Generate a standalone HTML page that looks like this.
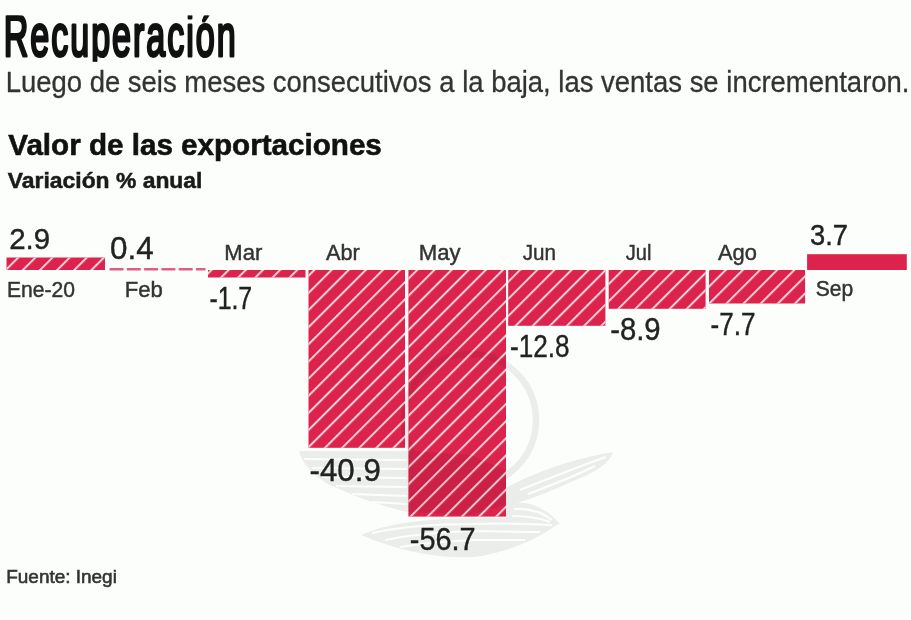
<!DOCTYPE html>
<html><head><meta charset="utf-8"><style>
html,body{margin:0;padding:0;background:#fcfefc;}
body{width:911px;height:620px;overflow:hidden;position:relative;}
svg{position:absolute;left:0;top:0;display:block;filter:blur(0.55px);}
text{font-family:"Liberation Sans",sans-serif;}
</style></head><body>
<svg width="911" height="620" viewBox="0 0 911 620">
<defs>
<pattern id="h" patternUnits="userSpaceOnUse" width="12.12" height="40" patternTransform="rotate(45) translate(0.1 0)">
<rect x="0" y="0" width="2" height="40" fill="#fbd0da"/>
</pattern>
<clipPath id="tc" clipPathUnits="userSpaceOnUse"><rect x="-20" y="-40.5" width="600" height="46.3"/></clipPath>
<mask id="wm" maskUnits="userSpaceOnUse" x="0" y="0" width="911" height="620">
<g fill="#fff">
<circle cx="470" cy="420" r="66" fill="none" stroke="#fff" stroke-width="6.5"/>
<path d="M299 451 L407 451 L407 512 C380 506 348 494 326 483 C311 473 302 463 299 451Z"/>
<path d="M407 451 L470 455 L470 515 L407 512Z"/>
<path d="M470 455 L506 470 L506 505 L470 515Z"/>
<path d="M506 488 C530 474 575 458 613 452 C610 464 592 474 573 481 C556 489 540 496 520 502 L506 505Z"/>
<path d="M506 503 C525 500 545 506 560 524 C545 529 525 529 506 526Z"/>
<path d="M361 535 C385 524 420 519 470 518 C510 517 540 519 559 523 C540 538 510 552 475 557 C440 559 400 552 361 535Z"/>
</g>
<g stroke="#000" stroke-width="2.2" fill="none">
<path d="M304 459 L407 460 M312 468 L407 469 M322 477 L407 478 M336 486 L407 487 M352 494 L407 496 M372 502 L407 504"/>
<path d="M520 490 C550 478 580 466 606 457 M528 494 C552 485 575 476 595 466"/>
<path d="M514 509 C530 508 542 512 552 520 M512 516 C528 516 540 518 550 522"/>
<path d="M372 533 C400 527 430 524 470 524 C505 523 530 524 552 525 M385 540 C410 535 440 532 470 531 C500 531 520 532 540 532 M400 547 C425 543 450 541 475 540 C495 540 510 540 525 540"/>
</g>
</mask>
</defs>
<rect width="911" height="620" fill="#fcfefc"/>

<rect x="6.5" y="257.5" width="98.5" height="12.5" fill="#dc234b"/>
<rect x="6.5" y="257.5" width="98.5" height="12.5" fill="url(#h)"/>
<line x1="109.5" y1="269.3" x2="205.5" y2="269.3" stroke="#de5f85" stroke-width="2.6" stroke-dasharray="14 3.3" stroke-dashoffset="0"/>
<rect x="208" y="270" width="97.5" height="7.5" fill="#dc234b"/>
<rect x="208" y="270" width="97.5" height="7.5" fill="url(#h)"/>
<rect x="308.5" y="270" width="96.5" height="177.8" fill="#dc234b"/>
<rect x="308.5" y="270" width="96.5" height="177.8" fill="url(#h)"/>
<rect x="408.4" y="270" width="97.6" height="246.6" fill="#dc234b"/>
<rect x="408.4" y="270" width="97.6" height="246.6" fill="url(#h)"/>
<rect x="508.2" y="270" width="97.2" height="55.8" fill="#dc234b"/>
<rect x="508.2" y="270" width="97.2" height="55.8" fill="url(#h)"/>
<rect x="608.7" y="270" width="96.9" height="38.8" fill="#dc234b"/>
<rect x="608.7" y="270" width="96.9" height="38.8" fill="url(#h)"/>
<rect x="709" y="270" width="96.1" height="33.5" fill="#dc234b"/>
<rect x="709" y="270" width="96.1" height="33.5" fill="url(#h)"/>
<rect x="807.1" y="254.2" width="99.7" height="15.8" fill="#dc234b"/>
<rect x="0" y="0" width="911" height="620" fill="#000" opacity="0.062" mask="url(#wm)"/>
<text clip-path="url(#tc)" transform="translate(3.79 56.00) scale(0.58 1)" x="0" y="0" font-size="58.7" fill="#111" stroke="#111" stroke-width="2.6" vector-effect="non-scaling-stroke" stroke-linejoin="round" letter-spacing="3.410">Recuperación</text>
<text x="5.63" y="91.50" font-size="29.6" stroke="#333" stroke-width="0.3" fill="#333" textLength="903.86" lengthAdjust="spacingAndGlyphs">Luego de seis meses consecutivos a la baja, las ventas se incrementaron.</text>
<text x="8.28" y="155.00" font-size="29.5" font-weight="bold" stroke="#111" stroke-width="0.6" fill="#111" textLength="373.57" lengthAdjust="spacingAndGlyphs">Valor de las exportaciones</text>
<text x="7.83" y="187.50" font-size="22.3" font-weight="bold" stroke="#1a1a1a" stroke-width="0.5" fill="#1a1a1a" textLength="194.60" lengthAdjust="spacingAndGlyphs">Variación % anual</text>
<text x="9.13" y="248.80" font-size="30.26" stroke="#222" stroke-width="0.4" fill="#222" textLength="41.01" lengthAdjust="spacingAndGlyphs">2.9</text>
<text x="110.14" y="258.50" font-size="30.95" stroke="#222" stroke-width="0.4" fill="#222" textLength="43.62" lengthAdjust="spacingAndGlyphs">0.4</text>
<text x="7.06" y="296.80" font-size="21.5" stroke="#333" stroke-width="0.45" fill="#333" textLength="67.98" lengthAdjust="spacingAndGlyphs">Ene-20</text>
<text x="124.67" y="296.60" font-size="21.5" stroke="#333" stroke-width="0.45" fill="#333" textLength="38.13" lengthAdjust="spacingAndGlyphs">Feb</text>
<text x="224.38" y="259.60" font-size="22" stroke="#333" stroke-width="0.45" fill="#333" textLength="37.94" lengthAdjust="spacingAndGlyphs">Mar</text>
<text x="209.38" y="308.60" font-size="30.55" stroke="#222" stroke-width="0.4" fill="#222" textLength="42.78" lengthAdjust="spacingAndGlyphs">-1.7</text>
<text x="325.95" y="259.60" font-size="22" stroke="#333" stroke-width="0.45" fill="#333" textLength="33.81" lengthAdjust="spacingAndGlyphs">Abr</text>
<text x="309.59" y="480.80" font-size="30.75" stroke="#222" stroke-width="0.4" fill="#222" textLength="71.17" lengthAdjust="spacingAndGlyphs">-40.9</text>
<text x="418.88" y="259.60" font-size="22" stroke="#333" stroke-width="0.45" fill="#333" textLength="41.76" lengthAdjust="spacingAndGlyphs">May</text>
<text x="409.80" y="549.60" font-size="30.55" stroke="#222" stroke-width="0.4" fill="#222" textLength="65.80" lengthAdjust="spacingAndGlyphs">-56.7</text>
<text x="522.69" y="259.60" font-size="22" stroke="#333" stroke-width="0.45" fill="#333" textLength="33.30" lengthAdjust="spacingAndGlyphs">Jun</text>
<text x="510.02" y="356.50" font-size="30.75" stroke="#222" stroke-width="0.4" fill="#222" textLength="59.64" lengthAdjust="spacingAndGlyphs">-12.8</text>
<text x="625.70" y="259.60" font-size="22" stroke="#333" stroke-width="0.45" fill="#333" textLength="25.67" lengthAdjust="spacingAndGlyphs">Jul</text>
<text x="610.18" y="339.50" font-size="30.55" stroke="#222" stroke-width="0.4" fill="#222" textLength="50.46" lengthAdjust="spacingAndGlyphs">-8.9</text>
<text x="717.95" y="259.60" font-size="22" stroke="#333" stroke-width="0.45" fill="#333" textLength="38.97" lengthAdjust="spacingAndGlyphs">Ago</text>
<text x="710.52" y="334.60" font-size="30.55" stroke="#222" stroke-width="0.4" fill="#222" textLength="45.00" lengthAdjust="spacingAndGlyphs">-7.7</text>
<text x="809.98" y="244.80" font-size="30.06" stroke="#222" stroke-width="0.4" fill="#222" textLength="38.00" lengthAdjust="spacingAndGlyphs">3.7</text>
<text x="815.85" y="295.50" font-size="21.5" stroke="#333" stroke-width="0.45" fill="#333" textLength="37.43" lengthAdjust="spacingAndGlyphs">Sep</text>
<text x="6.24" y="582.80" font-size="19.2" stroke="#333" stroke-width="0.6" fill="#333" textLength="110.65" lengthAdjust="spacingAndGlyphs">Fuente: Inegi</text>
</svg>
</body></html>
